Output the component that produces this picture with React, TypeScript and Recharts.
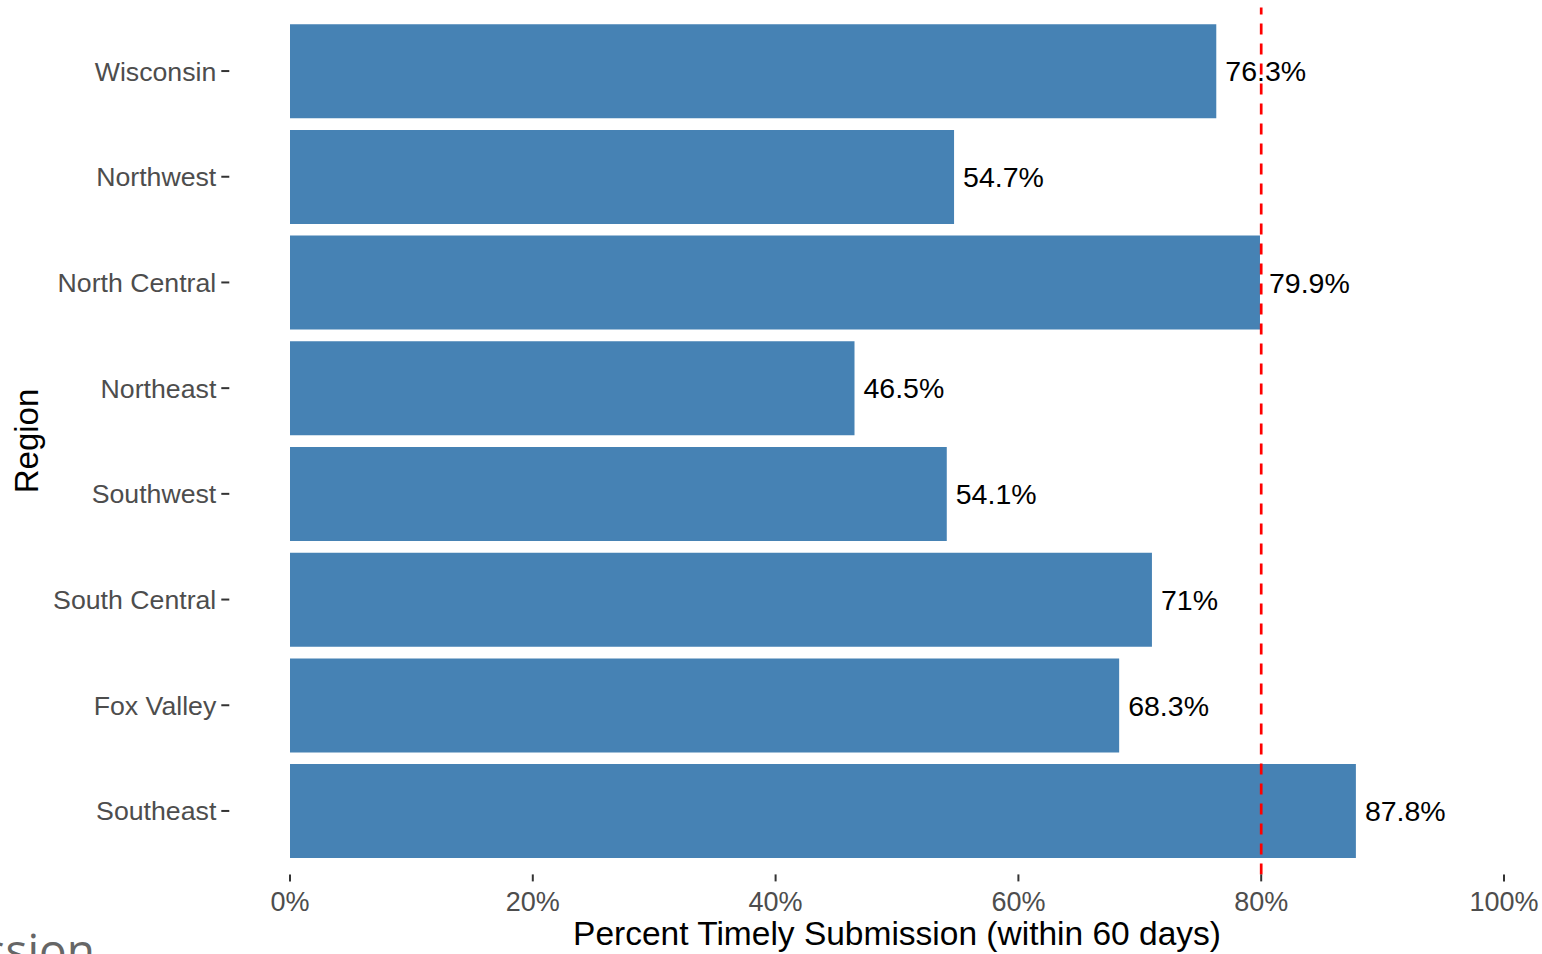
import React from "react"
import {
  BarChart,
  Bar,
  XAxis,
  YAxis,
  ReferenceLine,
  LabelList,
  Label,
} from "recharts"

const regions = [
  "Wisconsin",
  "Northwest",
  "North Central",
  "Northeast",
  "Southwest",
  "South Central",
  "Fox Valley",
  "Southeast",
]
const timelyPct = [76.3, 54.7, 79.9, 46.5, 54.1, 71, 68.3, 87.8]
const xTicks = [0, 20, 40, 60, 80, 100]
const targetPct = 80

const FONT = "'Liberation Sans', Arial, sans-serif"

export default function App() {
  const data = regions.map((name, i) => ({ name, value: timelyPct[i] }))

  return (
    <div
      style={{
        position: "absolute",
        left: 0,
        top: 0,
        width: 1542,
        height: 954,
        overflow: "hidden",
        background: "#fff",
        fontFamily: FONT,
      }}
    >
      <BarChart
        width={1580}
        height={954}
        data={data}
        layout="vertical"
        margin={{ top: 7.6, right: 15.3, bottom: 0, left: 0 }}
        barSize={94}
      >
        <XAxis
          type="number"
          domain={[-5, 105]}
          ticks={xTicks}
          allowDataOverflow
          height={79.6}
          axisLine={false}
          tickSize={7}
          tickMargin={10}
          tickLine={{ stroke: "#333", strokeWidth: 2 }}
          tick={{ fill: "#4d4d4d", fontSize: 27, fontFamily: FONT }}
          tickFormatter={(v) => `${v}%`}
        >
          <Label
            value="Percent Timely Submission (within 60 days)"
            position="insideBottom"
            offset={9}
            style={{ fill: "#000", fontSize: 33.5, fontFamily: FONT }}
          />
        </XAxis>
        <YAxis
          type="category"
          dataKey="name"
          width={229.3}
          axisLine={false}
          padding={{ top: 10.6, bottom: 10.6 }}
          tickSize={8}
          tickMargin={5}
          tickLine={{ stroke: "#333", strokeWidth: 2 }}
          tick={{ fill: "#4d4d4d", fontSize: 26.7, fontFamily: FONT }}
        >
          <Label
            content={({ viewBox }: any) => {
              const cx = viewBox.x + 26
              const cy = viewBox.y + viewBox.height / 2
              return (
                <text
                  x={cx}
                  y={cy}
                  transform={`rotate(-90, ${cx}, ${cy})`}
                  textAnchor="middle"
                  dominantBaseline="central"
                  style={{ fill: "#000", fontSize: 33, fontFamily: FONT }}
                >
                  Region
                </text>
              )
            }}
          />
        </YAxis>
        <Bar dataKey="value" fill="#4682b4" isAnimationActive={false}>
          <LabelList
            dataKey="value"
            position="right"
            offset={9}
            formatter={(v: any) => `${v}%`}
            style={{ fill: "#000", fontSize: 28.5, fontFamily: FONT }}
          />
        </Bar>
        <ReferenceLine
          x={targetPct}
          stroke="#ff0000"
          strokeWidth={2.7}
          strokeDasharray="11 9"
          ifOverflow="extendDomain"
        />
      </BarChart>
      <div
        style={{
          position: "absolute",
          right: 1542 - 95,
          top: 926,
          fontFamily: "'Open Sans', sans-serif",
          fontSize: 46,
          color: "#666",
          whiteSpace: "nowrap",
          lineHeight: 1,
        }}
      >
        Submission
      </div>
    </div>
  )
}
